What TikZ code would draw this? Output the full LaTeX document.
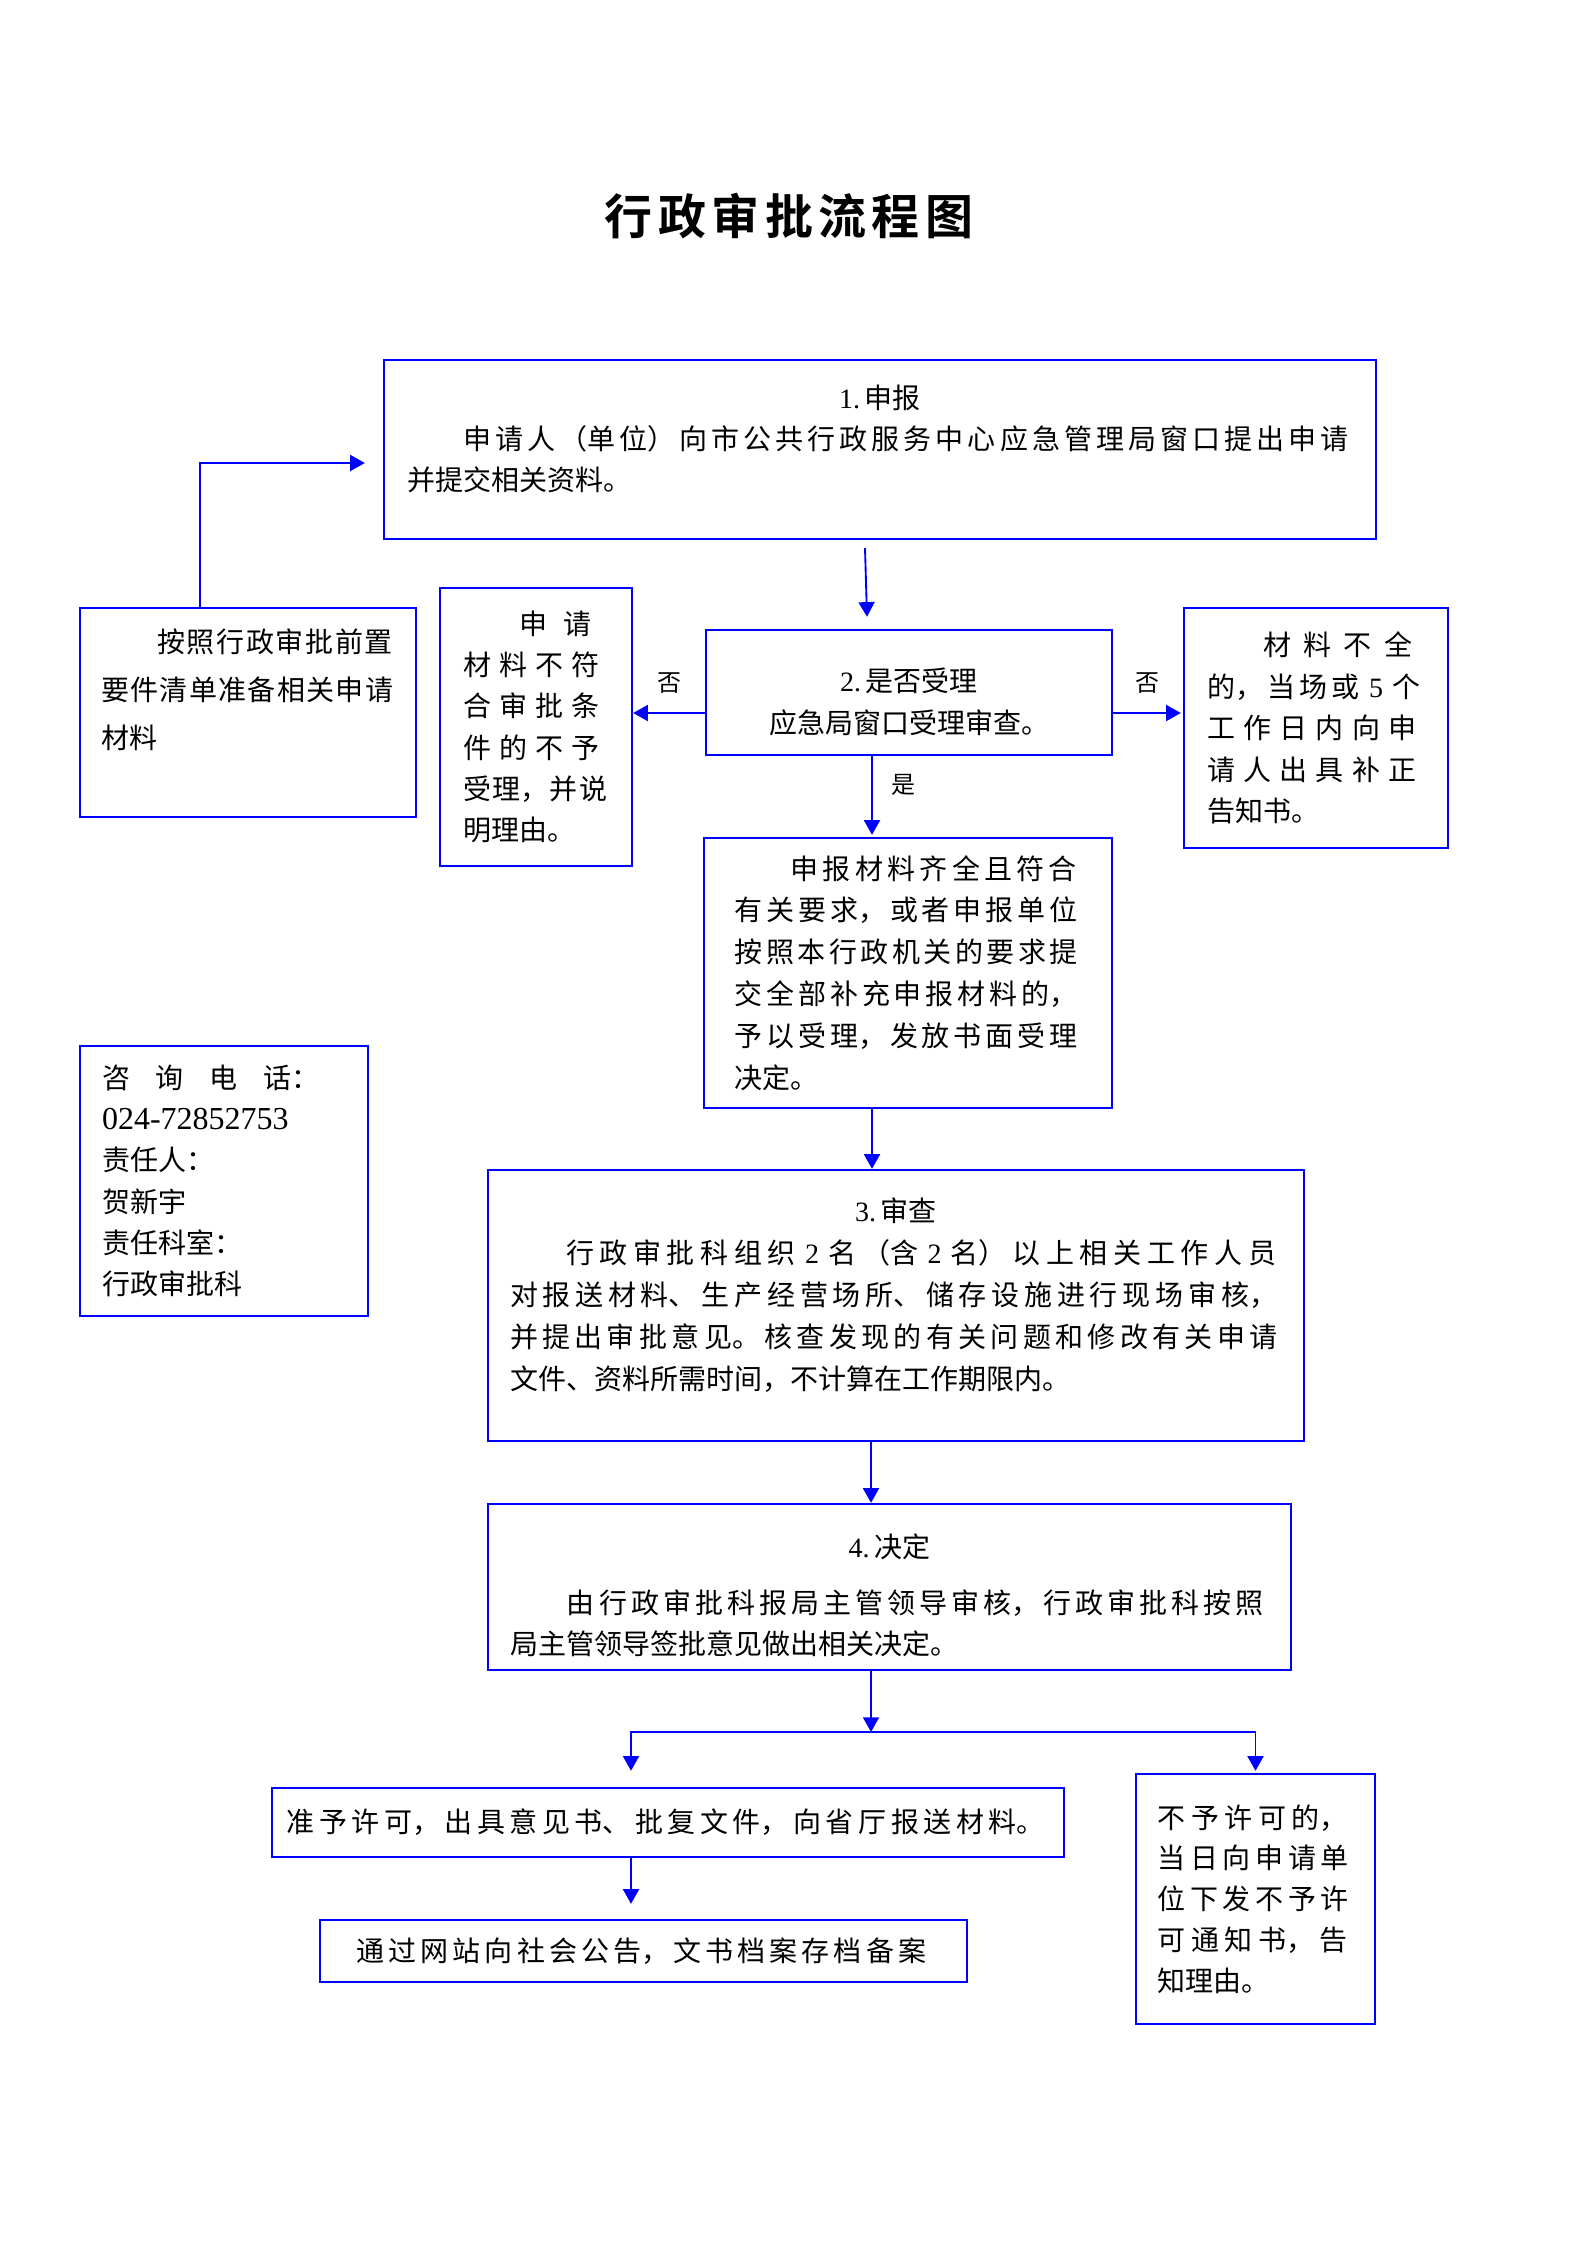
\documentclass[tikz,border=0pt]{standalone}
\usepackage{fontspec}
\setmainfont{Liberation Serif}
\newfontfamily\cjk{Noto Sans CJK SC}
\newfontfamily\cjktitle{Noto Sans CJK SC Bold}
\usepackage{tikz}
\usetikzlibrary{arrows.meta}
\tikzset{>={Triangle[length=5.5pt,width=6pt]}}
\XeTeXlinebreaklocale "zh"
\XeTeXlinebreakskip=0pt plus 20pt
\tolerance=9999
\hbadness=10000
\newcommand\ctr[1]{\par\noindent\hbox to\linewidth{\hfill#1\hfill}\par}
\newcommand\full[1]{{\parfillskip=0pt\relax#1\par}}
\newcommand\dg[1]{{\rmfamily#1}}

\begin{document}
\begin{tikzpicture}[x=0.375pt,y=-0.375pt,auto,
    box/.style={draw=blue,line width=0.9pt,inner sep=0pt,
      font=\cjk\fontsize{10.5pt}{15.5pt}\selectfont},
    lbl/.style={font=\cjk\fontsize{9pt}{10pt}\selectfont,text=black,inner sep=0pt},
    flow/.style={->,blue,line width=0.7pt},
    link/.style={flow,draw}]
    \useasboundingbox (0,0) rectangle (1587,2245);
    \node[font=\cjktitle\fontsize{18pt}{20pt}\selectfont,text width=141.8pt,inner sep=0pt] (title) at (794,216) {\full{行政审批流程图}};
    \node[box,minimum width=372pt,minimum height=67.1pt,text width=354.75pt,font=\cjk\fontsize{10.5pt}{15.4pt}\selectfont] (apply) at (880,449.5) {\ctr{\dg{1.}\,申报}\full{\hspace*{2em}申请人（单位）向市公共行政服务中心应急管理局窗口提出申请}并提交相关资料。\par\mbox{}};
    \node[box,minimum width=126pt,minimum height=78.4pt,text width=110pt,font=\cjk\fontsize{10.5pt}{18pt}\selectfont] (prep) at (248,712.5) {\full{\hspace*{2em}按照行政审批前置}\full{要件清单准备相关申请}材料\par\mbox{}};
    \node[box,minimum width=72pt,minimum height=104.25pt,text width=54.4pt,font=\cjk\fontsize{10.5pt}{15.45pt}\selectfont] (reject) at (536,727) {\full{\hspace*{2em}申请}\full{材料不符}\full{合审批条}\full{件的不予}\full{受理，并说}明理由。};
    \node[box,minimum width=152.25pt,minimum height=46.9pt,text width=140pt,font=\cjk\fontsize{10.5pt}{15.75pt}\selectfont] (accept) at (909,692.5) {\ctr{\dg{2.}\,是否受理}\ctr{应急局窗口受理审查。}};
    \node[box,minimum width=99pt,minimum height=90pt,text width=81.75pt,font=\cjk\fontsize{10.5pt}{15.6pt}\selectfont] (lack) at (1316,728) {\full{\hspace*{2em}材料不全}\full{的，当场或 \dg{5} 个}\full{工作日内向申}\full{请人出具补正}告知书。};
    \node[box,minimum width=153pt,minimum height=101.25pt,text width=130pt,font=\cjk\fontsize{10.5pt}{15.7pt}\selectfont] (complete) at (908,973) {\full{\hspace*{2em}申报材料齐全且符合}\full{有关要求，或者申报单位}\full{按照本行政机关的要求提}\full{交全部补充申报材料的，}\full{予以受理，发放书面受理}决定。};
    \node[box,minimum width=108pt,minimum height=101.25pt,text width=91.5pt] (contact) at (224,1181) {\full{咨询电话：}{\rmfamily\fontsize{12pt}{15.5pt}\selectfont 024-72852753\par}责任人：\par 贺新宇\par 责任科室：\par 行政审批科};
    \node[box,minimum width=306pt,minimum height=101.6pt,text width=289.5pt,font=\cjk\fontsize{10.5pt}{15.75pt}\selectfont] (review) at (896,1305.5) {\ctr{\dg{3.}\,审查}\full{\hspace*{2em}行政审批科组织 \dg{2} 名（含 \dg{2} 名）以上相关工作人员}\full{对报送材料、生产经营场所、储存设施进行现场审核，}\full{并提出审批意见。核查发现的有关问题和修改有关申请}文件、资料所需时间，不计算在工作期限内。\par\mbox{}};
    \node[box,minimum width=301.1pt,minimum height=62.25pt,text width=283.9pt,font=\cjk\fontsize{10.5pt}{15.4pt}\selectfont] (decide) at (889.5,1587) {\ctr{\dg{4.}\,决定}\vspace{5.6pt}\full{\hspace*{2em}由行政审批科报局主管领导审核，行政审批科按照}局主管领导签批意见做出相关决定。};
    \node[box,minimum width=297pt,minimum height=25.9pt,text width=286pt] (grant) at (668,1822.5) {\full{准予许可，出具意见书、批复文件，向省厅报送材料。}};
    \node[box,minimum width=242.6pt,minimum height=23.25pt,text width=215.25pt] (publish) at (643.5,1951) {\full{通过网站向社会公告，文书档案存档备案}};
    \node[box,minimum width=89.6pt,minimum height=93.75pt,text width=73.5pt,font=\cjk\fontsize{10.5pt}{15.3pt}\selectfont] (deny) at (1255.5,1899) {\full{不予许可的，}\full{当日向申请单}\full{位下发不予许}\full{可通知书，告}知理由。};
    \coordinate (fork) at (871,1732);
    \draw[link] ([shift={(-48,0)}]prep.north) |- ([shift={(-18,13.5)}]apply.west);
    \draw[link] ([shift={(-15,8)}]apply.south) -- ([shift={(-42,-12)}]accept.north);
    \path[flow] ([shift={(0,20.5)}]accept.west) edge node[lbl,above=7pt] {否} ([shift={(0,-14)}]reject.east);
    \path[flow] ([shift={(0,20.5)}]accept.east) edge node[lbl,above=7pt] {否} ([shift={(-2,-15)}]lack.west);
    \path[flow] ([shift={(-37,0)}]accept.south) edge node[lbl,right=7pt,pos=0.36] {是} ([shift={(-36,-2)}]complete.north);
    \draw[link] ([shift={(-36,0)}]complete.south) -- ([shift={(-24,0)}]review.north);
    \draw[link] ([shift={(-25,0)}]review.south) -- ([shift={(-18.5,0)}]decide.north);
    \draw[link] ([shift={(-18.5,0)}]decide.south) -- (fork);
    \draw[link] (fork) -| ([shift={(-37,-16)}]grant.north);
    \draw[link] (fork) -| ([shift={(0,-2)}]deny.north);
    \draw[link] ([shift={(-37,0)}]grant.south) -- ([shift={(-12.5,-15)}]publish.north);
\end{tikzpicture}
\end{document}
